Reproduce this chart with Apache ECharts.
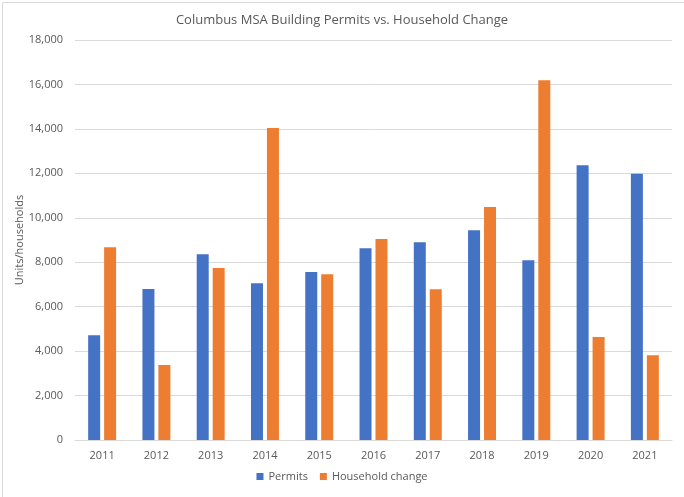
<!DOCTYPE html>
<html><head><meta charset="utf-8">
<script src="https://cdn.jsdelivr.net/npm/echarts@6/dist/echarts.min.js"></script>
<style>html,body{margin:0;padding:0;background:#fff}#c{width:684px;height:497px}</style>
</head><body><div id="c"></div>
<script>
const years = ['2011','2012','2013','2014','2015','2016','2017','2018','2019','2020','2021'];
const permits = [4710, 6800, 8355, 7050, 7560, 8625, 8895, 9435, 8085, 12360, 11985];
const householdChange = [8670, 3380, 7740, 14040, 7455, 9045, 6780, 10485, 16185, 4635, 3810];
const chart = echarts.init(document.getElementById('c'));
const font = '"Open Sans", "Noto Sans", sans-serif';
chart.setOption({
  animation: false,
  textStyle: {fontFamily: font},
  graphic: [{type: 'rect', left: 0, top: 0, shape: {x: 0.5, y: 0.5, width: 683, height: 496},
    style: {fill: 'none', stroke: '#d9d9d9', lineWidth: 1}, silent: true}],
  title: {text: 'Columbus MSA Building Permits vs. Household Change', left: 'center', top: 9,
    textStyle: {fontSize: 13, fontWeight: 'normal', color: '#595959', fontFamily: font}},
  legend: {bottom: 10, left: 'center', itemWidth: 7, itemHeight: 7, itemGap: 12,
    icon: 'rect', textStyle: {fontSize: 11, color: '#595959', fontFamily: font}},
  grid: {left: 75, right: 12, top: 40, bottom: 57},
  xAxis: {type: 'category', data: years,
    axisLine: {lineStyle: {color: '#d9d9d9'}}, axisTick: {show: false},
    axisLabel: {color: '#595959', fontSize: 11, margin: 10, fontFamily: font}},
  yAxis: {type: 'value', min: 0, max: 18000, interval: 2000,
    name: 'Units/households', nameLocation: 'middle', nameGap: 50, nameRotate: 90,
    nameMoveOverlap: false,
    nameTextStyle: {color: '#595959', fontSize: 11, fontFamily: font},
    axisLine: {show: false}, axisTick: {show: false},
    axisLabel: {color: '#595959', fontSize: 11, margin: 12, fontFamily: font,
      formatter: v => v.toLocaleString('en-US')},
    splitLine: {lineStyle: {color: '#d9d9d9'}}},
  series: [
    {name: 'Permits', type: 'bar', data: permits, barWidth: 12, barGap: '33%',
      itemStyle: {color: '#4472c4'}},
    {name: 'Household change', type: 'bar', data: householdChange, barWidth: 12,
      itemStyle: {color: '#ed7d31'}}
  ]
});
</script></body></html>
